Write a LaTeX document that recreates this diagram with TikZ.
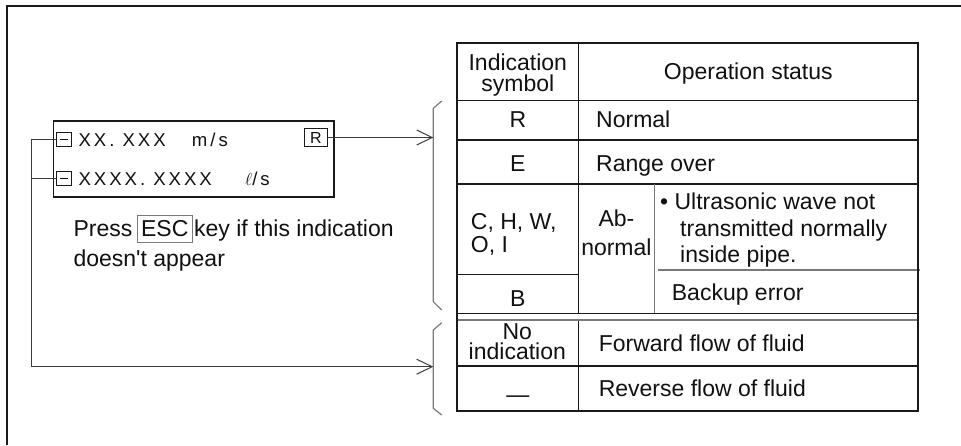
\documentclass[tikz,border=0pt]{standalone}
\usepackage{fontspec}
\setmainfont{Liberation Sans}
\newfontfamily\lcdfont[LetterSpace=16]{Liberation Sans}
\usetikzlibrary{arrows.meta}
\definecolor{ln}{HTML}{1A1A1A}
\definecolor{gr}{HTML}{7A7A7A}
\definecolor{txc}{HTML}{111111}
\newcommand\mainsz{\fontsize{23}{25}\selectfont}
\newcommand\lcdsz{\lcdfont\fontsize{18.6}{20}\selectfont}
\tikzset{
  txt/.style={inner sep=0pt, text=txc, font=\mainsz},
  lcd/.style={inner sep=0pt, text=txc, font=\lcdsz},
  mbox/.style={draw=ln, line width=0.9pt, minimum width=15.7pt, minimum height=14pt, inner sep=0pt, text=txc},
  rbox/.style={draw=ln, line width=0.9pt, minimum width=23.7pt, minimum height=18.4pt, inner sep=0pt, text=txc, font=\fontsize{16}{16}\selectfont},
  escbox/.style={draw=gr, line width=1pt, minimum width=55pt, minimum height=27.7pt, inner sep=0pt, text=txc, font=\mainsz},
  conn/.style={draw=ln!85, line width=1pt},
  barb/.style={-{Straight Barb[length=15.5pt,width=15pt,line width=1pt]}},
  bracket/.style={draw=gr, line width=1.2pt},
  tline/.style={draw=ln, line width=1.2pt},
  gline/.style={draw=gr, line width=1.2pt},
}
\begin{document}
\begin{tikzpicture}[x=1pt,y=-1pt]
\useasboundingbox (0,0) rectangle (961,445);
\fill[white] (0,0) rectangle (961,445);
% outer frame (top and left edges only visible)
\draw[draw=ln, line width=2pt] (6.7,445) -- (6.7,6) -- (961,6);

% display panel
\node[draw=ln, line width=1.5pt, minimum width=280.6pt, minimum height=76pt, inner sep=0pt, anchor=north west] (disp) at (52.7,120) {};
\node[mbox] (m1) at (63.85,139.7) {\rule{8.5pt}{1.3pt}};
\node[mbox] (m2) at (63.85,178.7) {\rule{8.5pt}{1.3pt}};
\node[lcd, anchor=base west] (t1) at (78.3,146) {XX. XXX};
\node[lcd, anchor=base west] (un1) at (191.7,146) {m/s};
\node[lcd, anchor=base west] (t2) at (78.3,185) {XXXX. XXXX};
\node[lcd, anchor=base west] (un2) at (245,185) {$\ell$/s};
\node[rbox] (rb) at (315.85,137.5) {R};

% instruction text
\node[txt, anchor=base west] (press) at (73.3,236.7) {Press};
\node[escbox] (esc) at (164.8,228.85) {ESC};
\node[txt, anchor=base west] (key) at (194,236.7) {key if this indication};
\node[txt, anchor=base west] (doesnt) at (73.3,266.7) {doesn\textquotesingle t appear};

% brackets
\coordinate (br1) at (433.3,137.5);
\coordinate (br2) at (433.3,366.7);
\coordinate (lc) at (31,366.7);
\draw[bracket] (441.7,101) -- (433.3,108.3) -- (433.3,301.7) -- (441.7,310);
\draw[bracket] (441.7,322.7) -- (433.3,330) -- (433.3,408.3) -- (441.7,415);

% connectors
\draw[conn, barb] (rb.east) -- (br1);
\draw[conn, barb] (m1.west) -| (lc) -- (br2);
\draw[conn] (m2.west) -- (m2.west -| lc);

% table lines
\draw[tline] (457.3,100.7) -- (918.3,100.7);
\draw[tline] (457.3,140) -- (918.3,140);
\draw[tline] (457.3,184) -- (918.3,184);
\draw[tline] (578.3,43.3) -- (578.3,313.3);
\draw[tline] (578.3,320) -- (578.3,410.7);
\draw[gline] (654.3,184) -- (654.3,313.3);
\draw[tline] (457.3,274.3) -- (578.3,274.3);
\draw[gline] (658.3,270) -- (920,270);
\draw[tline] (457.3,313.3) -- (918.3,313.3);
\draw[draw=gr, line width=2pt] (457.3,320) -- (918.3,320);
\draw[tline] (457.3,366) -- (918.3,366);
\draw[draw=ln, line width=1.8pt] (457.3,43.3) rectangle (918.3,410.7);

% table text (multi-line nodes: base anchor = baseline of last line)
\node[txt, anchor=base, align=center, font=\fontsize{23}{21}\selectfont] (hd) at (517.8,91) {Indication\\symbol};
\node[txt, anchor=base] (hd3) at (748.3,79) {Operation status};
\node[txt, anchor=base] (sR) at (517.8,127.3) {R};
\node[txt, anchor=base west] (sN) at (596,127.3) {Normal};
\node[txt, anchor=base] (sE) at (517.8,171.7) {E};
\node[txt, anchor=base west] (sRo) at (596,171.7) {Range over};
\node[txt, anchor=base west, align=left, font=\fontsize{23}{23}\selectfont] (c1) at (470.7,252) {C, H, W,\\O, I};
\node[txt, anchor=base, align=center, font=\fontsize{23}{28.3}\selectfont] (ab) at (616.4,255) {Ab-\\normal};
\node[txt, anchor=base west] (us1) at (660,209.3) {• Ultrasonic wave not};
\node[txt, anchor=base west, align=left, font=\fontsize{23}{25.5}\selectfont] (us2) at (680,262) {transmitted normally\\inside pipe.};
\node[txt, anchor=base west] (bk) at (671.7,300) {Backup error};
\node[txt, anchor=base] (sB) at (517.8,306) {B};
\node[txt, anchor=base, align=center, font=\fontsize{23}{20}\selectfont] (no) at (517.3,359.3) {No\\indication};
\node[txt, anchor=base west] (fw) at (598.6,351) {Forward flow of fluid};
\node[txt, anchor=base] (dsh) at (517.8,396.5) {\raisebox{-5.6pt}{—}};
\node[txt, anchor=base west] (rv) at (598.6,396) {Reverse flow of fluid};
\end{tikzpicture}
\end{document}
